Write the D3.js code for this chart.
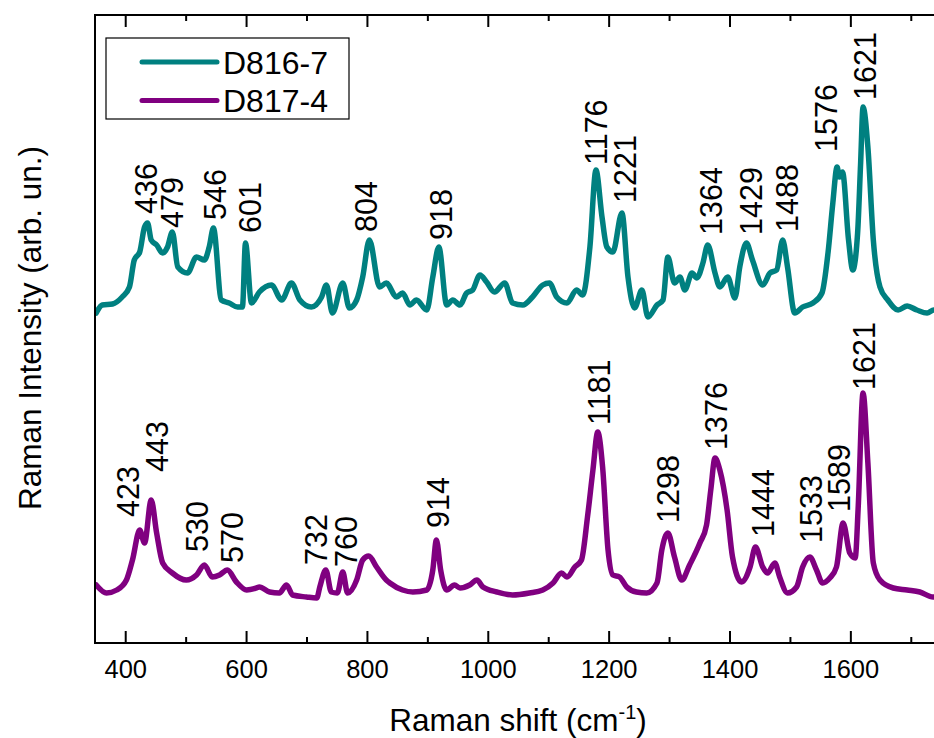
<!DOCTYPE html>
<html>
<head>
<meta charset="utf-8">
<script src="https://cdn.jsdelivr.net/npm/d3@7"></script>
<style>
  html, body { margin: 0; padding: 0; background: #fff; }
  text { font-family: "Liberation Sans", Arial, sans-serif; fill: #000; }
</style>
</head>
<body>
<svg id="chart" width="934" height="738"></svg>
<script>
// ---------------- data ----------------
const seriesNames = ["D816-7", "D817-4"];
const seriesColors = ["#008080", "#800080"];

// D816-7 spectrum: Raman shift (cm-1)
const shiftA = [352,362,379,395,407,415,424,432,437,443,452,462,470,478,487,503,518,531,539,546,559,572,586,594,599,609,622,642,659,675,689,708,725,733,743,760,771,783,793,804,821,832,849,859,871,882,899,909,919,932,942,954,965,975,987,998,1011,1028,1041,1058,1074,1091,1102,1114,1131,1147,1157,1169,1179,1189,1197,1207,1222,1232,1243,1255,1265,1280,1290,1298,1309,1318,1326,1338,1346,1356,1364,1376,1384,1397,1409,1417,1428,1438,1455,1467,1478,1488,1496,1508,1521,1538,1553,1563,1571,1578,1582,1587,1597,1604,1612,1617,1621,1629,1638,1649,1662,1679,1694,1710,1727,1738,1750];
// D816-7 intensity (arb. un.)
const intensityA = [330,338,339,346,356,383,391,416,420,403,398,390,396,411,376,370,386,383,396,415,343,340,336,336,400,340,351,358,343,360,343,336,346,358,330,360,335,343,366,403,356,360,346,350,338,343,333,366,396,338,343,338,350,353,368,361,351,360,340,338,346,358,360,346,340,353,348,396,473,426,396,391,430,366,335,353,326,338,343,386,360,366,353,370,365,380,398,370,356,366,345,376,400,383,358,370,373,403,376,330,336,340,350,390,440,476,466,471,403,373,410,480,536,496,403,356,343,333,337,333,330,333,332];

// D817-4 spectrum: Raman shift (cm-1)
const shiftB = [352,369,386,402,412,424,432,443,452,462,478,501,518,531,544,556,569,584,601,617,622,639,655,667,677,700,717,722,732,741,751,760,768,783,793,803,816,832,838,859,876,899,909,915,922,932,945,954,970,982,992,1015,1041,1069,1091,1108,1122,1131,1144,1155,1165,1174,1182,1190,1199,1207,1218,1230,1246,1263,1280,1288,1298,1309,1321,1334,1351,1362,1369,1376,1384,1396,1405,1420,1434,1443,1455,1463,1475,1483,1496,1511,1521,1533,1544,1554,1566,1577,1588,1599,1608,1613,1621,1629,1638,1649,1671,1694,1715,1737,1750];
// D817-4 intensity (arb. un.)
const intensityB = [58,50,53,63,83,113,100,143,110,80,70,63,68,78,66,68,73,61,53,55,56,51,50,58,48,46,45,56,73,51,50,71,50,63,83,87,76,63,60,53,51,53,73,103,73,53,58,55,58,63,56,51,48,50,53,60,70,66,76,83,126,173,211,176,93,68,66,56,51,50,60,93,110,86,63,78,100,118,153,185,173,133,86,61,76,96,76,70,80,66,50,56,76,86,73,60,65,76,120,90,85,136,250,180,80,63,55,53,51,46,46];

// axis ticks
const majorTicks = [400, 600, 800, 1000, 1200, 1400, 1600];
const minorTicks = [500, 700, 900, 1100, 1300, 1500, 1700];

// peak annotations: label text, series index, label base position (shift, intensity)
const peakLabels  = ["436","479","546","601","804","918","1176","1221","1364","1429","1488","1576","1621",
                     "423","443","530","570","732","760","914","1181","1298","1376","1444","1533","1589","1621"];
const peakSeries  = [0,0,0,0,0,0,0,0,0,0,0,0,0, 1,1,1,1,1,1,1,1,1,1,1,1,1,1];
const labelShift  = [435,478,548,607,798,922,1179,1227,1369,1435,1495,1559,1624,
                     405,453,518,576,715,765,917,1184,1299,1377,1455,1535,1582,1622];
const labelLevel  = [429,415,423,410,411,403,478,440,408,408,411,491,543,
                     126,171,91,80,78,76,115,218,120,193,106,100,131,253];

// ---------------- layout ----------------
const margin = { left: 95, top: 15, right: 941, bottom: 643 };
const svg = d3.select("#chart");

const x = d3.scaleLinear().domain([350, 1750]).range([margin.left, margin.right]);
const y = d3.scaleLinear().domain([0, 628]).range([margin.bottom, margin.top]);

svg.append("defs").append("clipPath").attr("id", "plotclip")
  .append("rect")
  .attr("x", margin.left).attr("y", margin.top)
  .attr("width", margin.right - margin.left).attr("height", margin.bottom - margin.top);

// spectra
const line = d3.line().x(d => x(d[0])).y(d => y(d[1])).curve(d3.curveMonotoneX);
const seriesData = [
  d3.zip(shiftA, intensityA),
  d3.zip(shiftB, intensityB)
];
const g = svg.append("g").attr("clip-path", "url(#plotclip)");
seriesData.forEach((pts, i) => {
  g.append("path")
    .datum(pts)
    .attr("d", line)
    .attr("fill", "none")
    .attr("stroke", seriesColors[i])
    .attr("stroke-width", 5.5)
    .attr("stroke-linejoin", "round")
    .attr("stroke-linecap", "round");
});

// axes
const axG = svg.append("g");
const bottomMajor = d3.axisBottom(x).tickValues(majorTicks).tickSizeInner(-12).tickSizeOuter(0).tickPadding(17).tickFormat(d3.format("d"));
const bottomMinor = d3.axisBottom(x).tickValues(minorTicks).tickSizeInner(-6).tickSizeOuter(0).tickFormat("");
const topMajor = d3.axisTop(x).tickValues(majorTicks).tickSizeInner(-12).tickSizeOuter(0).tickFormat("");
const topMinor = d3.axisTop(x).tickValues(minorTicks).tickSizeInner(-6).tickSizeOuter(0).tickFormat("");

function styleAxis(sel) {
  sel.select(".domain").remove();
  sel.selectAll(".tick line").attr("stroke", "#000").attr("stroke-width", 2);
  sel.selectAll(".tick text").attr("font-size", 25.5).attr("font-family", "Liberation Sans, Arial, sans-serif").attr("fill", "#000");
}
axG.append("g").attr("transform", `translate(0,${margin.bottom})`).call(bottomMajor).call(styleAxis);
axG.append("g").attr("transform", `translate(0,${margin.bottom})`).call(bottomMinor).call(styleAxis);
axG.append("g").attr("transform", `translate(0,${margin.top})`).call(topMajor).call(styleAxis);
axG.append("g").attr("transform", `translate(0,${margin.top})`).call(topMinor).call(styleAxis);

// frame
svg.append("rect")
  .attr("x", margin.left).attr("y", margin.top)
  .attr("width", margin.right - margin.left).attr("height", margin.bottom - margin.top)
  .attr("fill", "none").attr("stroke", "#000").attr("stroke-width", 2);

// axis titles
const xt = svg.append("text")
  .attr("x", 518).attr("y", 731)
  .attr("text-anchor", "middle")
  .attr("font-size", 31.5);
xt.append("tspan").text("Raman shift (cm");
xt.append("tspan").attr("dy", -12).attr("font-size", 20).text("-1");
xt.append("tspan").attr("dy", 12).text(")");

svg.append("text")
  .attr("transform", "translate(41,328) rotate(-90)")
  .attr("text-anchor", "middle")
  .attr("font-size", 31.5)
  .text("Raman Intensity (arb. un.)");

// peak labels
svg.append("g").selectAll("text")
  .data(peakLabels.map((t, i) => ({ t, s: peakSeries[i], vx: labelShift[i], vy: labelLevel[i] })))
  .join("text")
  .attr("transform", d => `translate(${x(d.vx)},${y(d.vy)}) rotate(-90)`)
  .attr("dy", "0.36em")
  .attr("text-anchor", "start")
  .attr("font-size", 30.5)
  .text(d => d.t);

// legend
const leg = svg.append("g");
leg.append("rect")
  .attr("x", 106).attr("y", 38).attr("width", 243).attr("height", 81)
  .attr("fill", "#fff").attr("stroke", "#000").attr("stroke-width", 1.2);
seriesNames.forEach((name, i) => {
  const ly = 62 + i * 38.5;
  leg.append("line")
    .attr("x1", 142).attr("x2", 217).attr("y1", ly).attr("y2", ly)
    .attr("stroke", seriesColors[i]).attr("stroke-width", 5).attr("stroke-linecap", "round");
  leg.append("text")
    .attr("x", 223).attr("y", ly + 11.5)
    .attr("font-size", 32)
    .text(name);
});
</script>
</body>
</html>
